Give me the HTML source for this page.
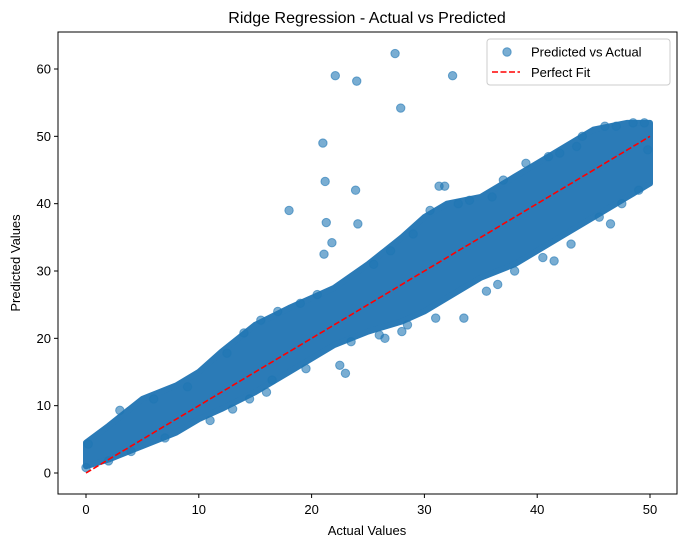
<!DOCTYPE html>
<html><head><meta charset="utf-8"><style>
body{margin:0;background:#fff;}
svg text{font-family:"Liberation Sans","DejaVu Sans",sans-serif;fill:#000;}
</style></head><body>
<svg id="chart" width="686" height="547" viewBox="0 0 686 547" xmlns="http://www.w3.org/2000/svg">
<rect width="686" height="547" fill="#fff"/>
<text x="367" y="23" font-size="16" text-anchor="middle">Ridge Regression - Actual vs Predicted</text>
<g id="plot"></g>
<text x="367" y="535" font-size="13" text-anchor="middle">Actual Values</text>
<text x="20" y="263" font-size="13" text-anchor="middle" transform="rotate(-90 20 263)">Predicted Values</text>
</svg>
<script>
const bandX=[0,2,5,8,10,12,15,18,20,22,25,28,30,32,35,38,40,42,45,48,50];
const bandLower=[1,2,4,6,8,9.5,12,15,17,19,21,22.5,24,26,29,31,33,35,38,41,43];
const bandUpper=[4.5,7,11,13,15,18,22,24.5,26,27.5,31,35,38,40,41,44,46,48,51,52,52];
const pointsX=[
18,21,21.2,21.3,21.8,22.1,24,23.9,24.1,27.4,
27.9,31.3,31.8,32.5,21.1,22.5,23,
0,0.2,3,6,9,12.5,14,15.5,17,19,
20.5,25.5,27,29,30.5,33,34,36,37,39,
41,42,43.5,44,46,47,48.5,49.5,49.8,
2,4,7,11,13,16,19.5,23.5,26,28.5,
31,35.5,38,40.5,43,45.5,47.5,49,14.5,16.5,
26.5,28,33.5,36.5,41.5,46.5];
const pointsY=[
39,49,43.3,37.2,34.2,59,58.2,42,37,62.3,
54.2,42.6,42.6,59,32.5,16,14.8,
0.8,4.3,9.3,11,12.8,17.8,20.8,22.7,24,25.2,
26.5,31,33,35.5,39,40,40.5,41,43.5,46,
47,47.5,48.5,50,51.5,51.5,52,52,48,
1.8,3.2,5.2,7.8,9.5,12,15.5,19.5,20.5,22,
23,27,30,32,34,38,40,42,11,13.8,
20,21,23,28,31.5,37];
const xTicks=[0,10,20,30,40,50];
const yTicks=[0,10,20,30,40,50,60];
const X0=58,X1=677,Y0=494,Y1=32;
const sx=v=>86+v*(650-86)/50;
const sy=v=>473-v*(473-69)/60;
const NS='http://www.w3.org/2000/svg';
const g=document.getElementById('plot');
function mk(t,a){const e=document.createElementNS(NS,t);for(const k in a)e.setAttribute(k,a[k]);return e;}
let d='';
bandX.forEach((x,i)=>{d+=(i?'L':'M')+sx(x)+','+sy(bandUpper[i]);});
for(let i=bandX.length-1;i>=0;i--)d+='L'+sx(bandX[i])+','+sy(bandLower[i]);
d+='Z';
const band=mk('path',{d:d,fill:'#2b7bb7','stroke':'#2b7bb7','stroke-width':6,'stroke-linejoin':'round'});


g.appendChild(band);
pointsX.forEach((x,i)=>{
 const c=mk('circle',{cx:sx(x),cy:sy(pointsY[i]),r:4.2,fill:'#1f77b4','fill-opacity':0.6,stroke:'#1f77b4','stroke-opacity':0.6});
 
 
 g.appendChild(c);
});
const fit=mk('line',{x1:sx(0),y1:sy(0),x2:sx(50),y2:sy(50),stroke:'#f00','stroke-width':1.6,'stroke-dasharray':'6,2.5'});


g.appendChild(fit);
const fr=mk('rect',{x:X0,y:Y1,width:X1-X0,height:Y0-Y1,fill:'none',stroke:'#000','stroke-width':1});


g.appendChild(fr);
xTicks.forEach(v=>{
 const l=mk('line',{x1:sx(v),x2:sx(v),y1:Y0,y2:Y0+4,stroke:'#000'});
 
 
 g.appendChild(l);
 const t=mk('text',{x:sx(v),y:Y0+20,'font-size':13,'text-anchor':'middle'});
 t.textContent=v;
 
 
 g.appendChild(t);
});
yTicks.forEach(v=>{
 const l=mk('line',{x1:X0-4,x2:X0,y1:sy(v),y2:sy(v),stroke:'#000'});
 
 
 g.appendChild(l);
 const t=mk('text',{x:X0-7,y:sy(v)+4.5,'font-size':13,'text-anchor':'end'});
 t.textContent=v;
 
 
 g.appendChild(t);
});
const lg=mk('g',{});


g.appendChild(lg);
const lb=mk('rect',{x:487,y:39,width:183,height:46,rx:3,fill:'#fff','fill-opacity':0.8,stroke:'#ccc'});


lg.appendChild(lb);
const lc=mk('circle',{cx:507,cy:52,r:4.2,fill:'#1f77b4','fill-opacity':0.6,stroke:'#1f77b4','stroke-opacity':0.6});


lg.appendChild(lc);
const lt1=mk('text',{x:531,y:56.5,'font-size':13});
lt1.textContent='Predicted vs Actual';


lg.appendChild(lt1);
const ll=mk('line',{x1:492,x2:520,y1:72,y2:72,stroke:'#f00','stroke-width':1.6,'stroke-dasharray':'6,2.5'});


lg.appendChild(ll);
const lt2=mk('text',{x:531,y:77,'font-size':13});
lt2.textContent='Perfect Fit';


lg.appendChild(lt2);
</script>
</body></html>
